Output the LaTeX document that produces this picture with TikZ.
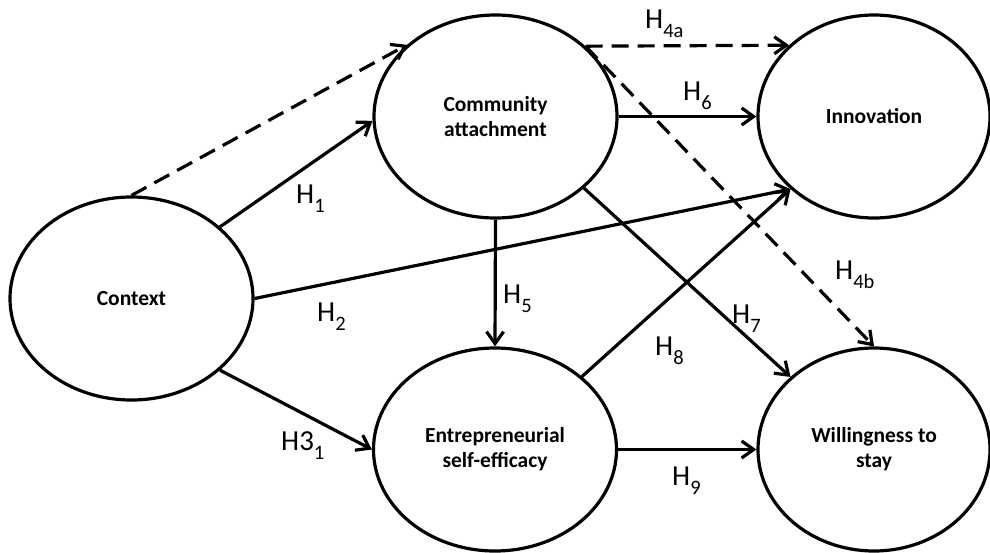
\documentclass[tikz,border=0pt]{standalone}
\usepackage{fontspec}
\setmainfont{Carlito}
\usetikzlibrary{shapes.geometric,arrows.meta}
\newcommand{\hsub}[1]{\raisebox{-9pt}{\fontsize{20.5}{20.5}\selectfont #1}}
\begin{document}
\begin{tikzpicture}[x=1pt,y=-1pt,
  lv/.style={ellipse,draw,line width=3.2pt,inner sep=0pt,minimum width=243pt,minimum height=203pt,align=center,font=\fontsize{21.5}{25}\selectfont\bfseries},
  arr/.style={line width=3.2pt,-{Straight Barb[length=12pt,width=17pt]}},
  dsh/.style={arr,dash pattern=on 17pt off 9pt},
  hl/.style={anchor=base west,inner sep=0pt,font=\fontsize{29}{29}\selectfont}]
\useasboundingbox (0,0) rectangle (990,552);
\node[lv] (ctx) at (131.5,298.5) {Context};
\node[lv] (ca) at (495.5,116.5) {Community\\attachment};
\node[lv,minimum width=232pt] (inn) at (874,116.5) {Innovation};
\node[lv] (ese) at (495,449.5) {Entrepreneurial\\self-efficacy};
\node[lv,minimum width=232pt] (wts) at (874,449.5) {Willingness to\\stay};
% connectors
\draw[dsh] (ctx.north) -- (ca.141.5);
\draw[arr] (ctx.39) -- (ca.182);
\draw[arr] (ctx.east) -- (inn.221);
\draw[arr] (ctx.-39) -- (ese.west);
\draw[arr] (ca.south) -- (ese.north);
\draw[dsh] (ca.38) -- (inn.140);
\draw[dsh] (ca.38) -- (wts.north);
\draw[arr] (ca.east) -- (inn.west);
\draw[arr] (ca.-39.5) -- (wts.139);
\draw[arr] (ese.40) -- (inn.221);
\draw[arr] (ese.east) -- (wts.west);
% labels
\node[hl] (l1) at (296,203) {H\hsub{1}};
\node[hl] (l2) at (317,321) {H\hsub{2}};
\node[hl] (l3) at (281,450) {H3\hsub{1}};
\node[hl] (l4a) at (645,28) {H\hsub{4a}};
\node[hl] (l4b) at (835,279) {H\hsub{4b}};
\node[hl] (l5) at (503,303) {H\hsub{5}};
\node[hl] (l6) at (683,100) {H\hsub{6}};
\node[hl] (l7) at (732,323) {H\hsub{7}};
\node[hl] (l8) at (655,355) {H\hsub{8}};
\node[hl] (l9) at (672,485) {H\hsub{9}};
\end{tikzpicture}
\end{document}
